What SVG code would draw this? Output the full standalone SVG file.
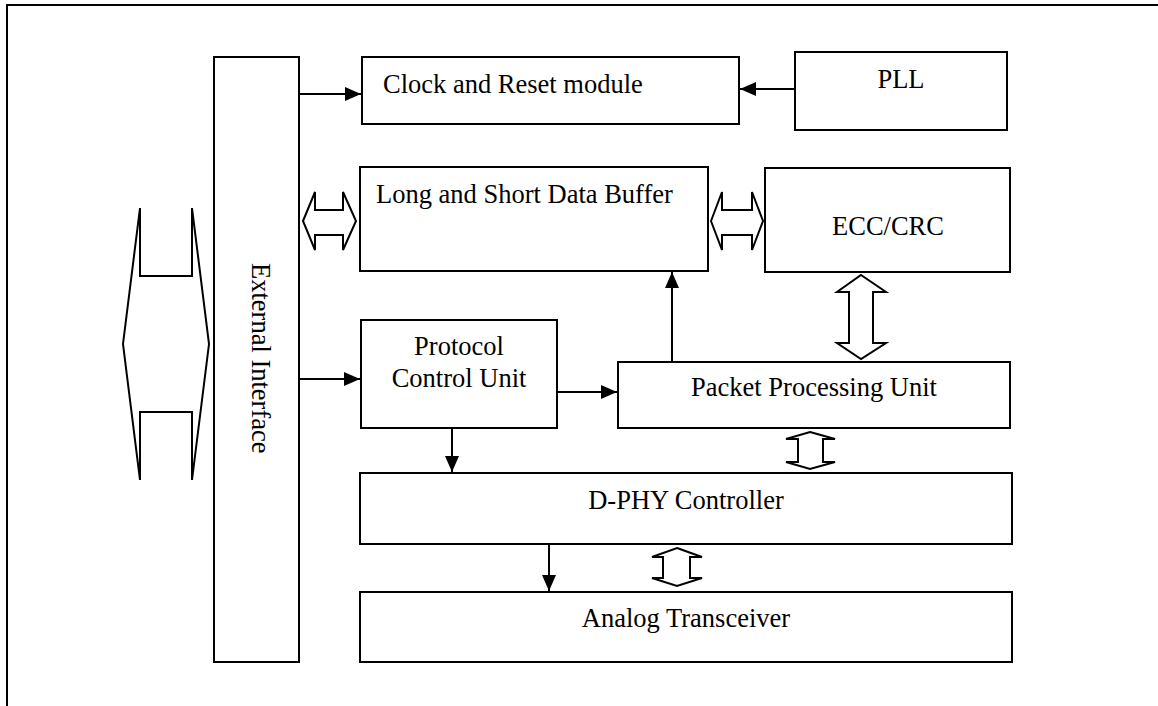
<svg xmlns="http://www.w3.org/2000/svg" width="1158" height="706" viewBox="0 0 1158 706">
<style>
.box{fill:#fff;stroke:#000;stroke-width:2}
.t{font-family:"Liberation Serif","Times New Roman",serif;font-size:26.5px;fill:#000}
.c{text-anchor:middle}
.ln{stroke:#000;stroke-width:2;fill:none}
.dbl{fill:#fff;stroke:#000;stroke-width:2;stroke-linejoin:miter}
</style>
<defs>
<marker id="ah" markerUnits="userSpaceOnUse" markerWidth="16" markerHeight="14" refX="16" refY="7" orient="auto">
<path d="M0,0 L16,7 L0,14 Z" fill="#000"/>
</marker>
</defs>
<rect width="1158" height="706" fill="#fff"/>
<path class="ln" d="M7,706 V5 H1158"/>

<g id="external-interface">
<rect class="box" x="214" y="57" width="85" height="605"/>
<text class="t" transform="translate(252,263) rotate(90)">External Interface</text>
</g>
<g id="clock-reset">
<rect class="box" x="362" y="57" width="377" height="67"/>
<text class="t" x="383" y="93">Clock and Reset module</text>
</g>
<g id="pll">
<rect class="box" x="795" y="52" width="212" height="78"/>
<text class="t c" x="901" y="88">PLL</text>
</g>
<g id="data-buffer">
<rect class="box" x="360" y="167" width="348" height="104"/>
<text class="t" x="376" y="203">Long and Short Data Buffer</text>
</g>
<g id="ecc-crc">
<rect class="box" x="765" y="168" width="245" height="104"/>
<text class="t c" x="888" y="235">ECC/CRC</text>
</g>
<g id="protocol-control">
<rect class="box" x="361" y="320" width="196" height="108"/>
<text class="t c" x="459" y="355">Protocol</text>
<text class="t c" x="459" y="387">Control Unit</text>
</g>
<g id="packet-processing">
<rect class="box" x="618" y="362" width="392" height="66"/>
<text class="t c" x="814" y="396">Packet Processing Unit</text>
</g>
<g id="dphy-controller">
<rect class="box" x="360" y="473" width="652" height="71"/>
<text class="t c" x="686" y="509">D-PHY Controller</text>
</g>
<g id="analog-transceiver">
<rect class="box" x="360" y="592" width="652" height="70"/>
<text class="t c" x="686" y="627">Analog Transceiver</text>
</g>

<g id="connectors">
<line class="ln" x1="299" y1="94" x2="361" y2="94" marker-end="url(#ah)"/>
<line class="ln" x1="795" y1="89" x2="740" y2="89" marker-end="url(#ah)"/>
<line class="ln" x1="299" y1="379" x2="360" y2="379" marker-end="url(#ah)"/>
<line class="ln" x1="557" y1="392" x2="617" y2="392" marker-end="url(#ah)"/>
<line class="ln" x1="672" y1="362" x2="672" y2="272" marker-end="url(#ah)"/>
<line class="ln" x1="452" y1="428" x2="452" y2="472" marker-end="url(#ah)"/>
<line class="ln" x1="549" y1="544" x2="549" y2="591" marker-end="url(#ah)"/>
<polygon class="dbl" points="123,344 140,208 140,276 192,276 192,208 209,344 192,480 192,412 140,412 140,480"/>
<polygon class="dbl" points="303,221 315,192 315,210 343,210 343,192 356,221 343,250 343,235 315,235 315,250"/>
<polygon class="dbl" points="711,221 722,192 722,210 752,210 752,192 763,221 752,250 752,235 722,235 722,250"/>
<polygon class="dbl" points="861,275 886,292 873,292 873,343 886,343 861,359 837,343 849,343 849,292 837,292"/>
<polygon class="dbl" points="810,432 835,439 823,439 823,462 835,462 810,469 786,462 798,462 798,439 786,439"/>
<polygon class="dbl" points="677,548 702,557 690,557 690,578 702,578 677,586 652,578 663,578 663,557 652,557"/>
</g>
</svg>
